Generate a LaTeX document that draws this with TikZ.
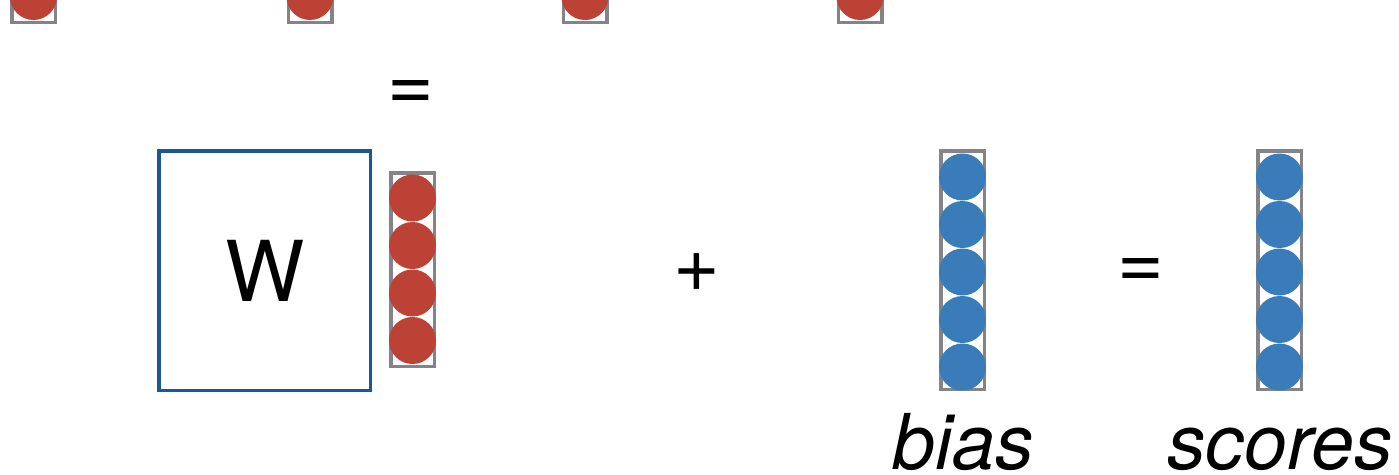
\documentclass[tikz,border=0pt]{standalone}
\usepackage{fontspec}
\setmainfont{TeX Gyre Heros}
\usetikzlibrary{positioning}

\definecolor{cellred}{RGB}{188,66,54}
\definecolor{cellblue}{RGB}{58,124,186}
\definecolor{framegray}{RGB}{132,132,136}
\definecolor{wblue}{RGB}{24,88,150}

\begin{document}
\begin{tikzpicture}[x=1pt, y=-1pt,
  colbox/.style={draw=framegray, line width=3.5pt, minimum width=43.5pt, inner sep=0pt},
  redc/.style={circle, fill=cellred, minimum size=47pt, inner sep=0pt},
  bluec/.style={circle, fill=cellblue, minimum size=47pt, inner sep=0pt},
  sym/.style={font=\fontsize{80}{80}\selectfont, inner sep=0pt},
  lab/.style={font=\fontsize{77}{77}\selectfont\itshape, inner sep=0pt}]
\clip (0,0) rectangle (1399,474);
\fill[white] (0,0) rectangle (1399,474);

% top row, cut off
\foreach \i/\x in {1/33.5, 2/310, 3/585, 4/860} {
  \node[colbox, minimum height=60pt] (topbox\i) at (\x,-7.5) {};
  \node[redc] (topc\i) at (\x,-3.5) {};
}

% matrix W
\node[draw=wblue, line width=3.5pt, minimum width=211.5pt, minimum height=239.5pt, inner sep=0pt] (wbox) at (264.5,270.5) {};
\node[font=\fontsize{84}{84}\selectfont, inner sep=0pt] (wlab) at (265,271) {W};

% input vector
\node[colbox, minimum height=193.5pt] (xbox) at (412.5,269.5) {};
\foreach \i in {1,...,4}
  \node[redc] (x\i) at (412.5,150.5+47.5*\i) {};
\node[sym] (eqtop) at (411,95) {=};

\node[sym] (plus) at (697,272.5) {+};

% bias
\node[colbox, minimum height=238.5pt] (biasbox) at (962.5,270) {};
\foreach \i in {1,...,5}
  \node[bluec] (b\i) at (962.5,129.5+47.5*\i) {};
\node[lab, anchor=base] (biaslab) at (963.5,469) {bias};

\node[sym] (eqmid) at (1140.5,273) {=};

% scores
\node[colbox, minimum height=238.5pt] (scorebox) at (1279.5,270) {};
\foreach \i in {1,...,5}
  \node[bluec] (s\i) at (1279.5,129.5+47.5*\i) {};
\node[lab, anchor=base] (scorelab) at (1280,469) {scores};

\end{tikzpicture}
\end{document}
